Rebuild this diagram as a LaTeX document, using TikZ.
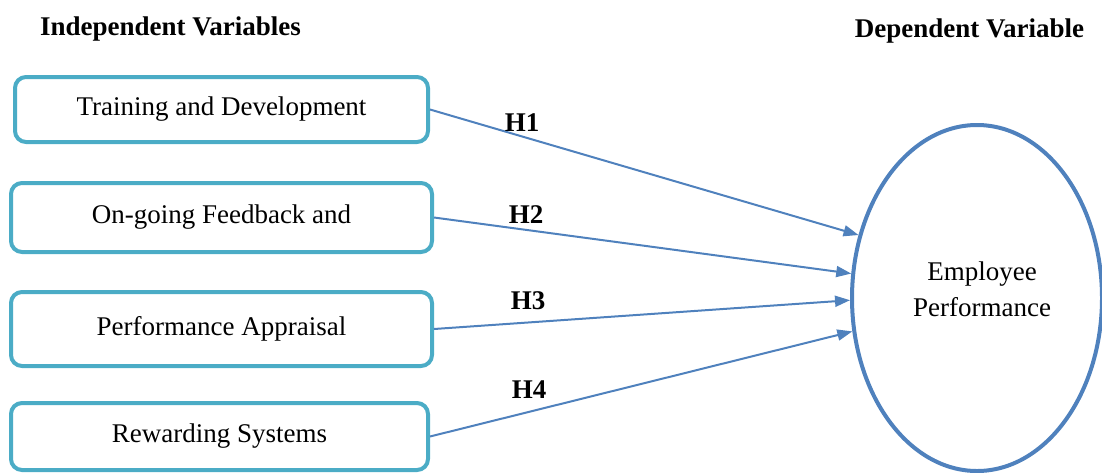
\documentclass[tikz,border=0pt]{standalone}
\usepackage{fontspec}
\setmainfont{Liberation Serif}
\usetikzlibrary{shapes.geometric,arrows.meta}
\definecolor{boxcol}{HTML}{4BACC6}
\definecolor{linecol}{HTML}{4F81BD}
\begin{document}
\begin{tikzpicture}[x=1pt,y=-1pt,
  every node/.style={font=\fontsize{27}{36}\selectfont, text=black},
  ivbox/.style={draw=boxcol, line width=4pt, rounded corners=11pt, fill=white, inner sep=0pt},
  dvell/.style={draw=linecol, ellipse, line width=4pt, inner sep=0pt, minimum width=250pt, minimum height=346pt},
  hyp/.style={draw=linecol, line width=2pt, -{Triangle[length=15pt,width=11pt]}},
  hlab/.style={font=\fontsize{27}{36}\selectfont\bfseries, anchor=base},
  head/.style={font=\fontsize{27}{36}\selectfont\bfseries, anchor=base}
]
\useasboundingbox (0,0) rectangle (1102,472);

\node[head] (hind) at (170.5,35) {Independent Variables};
\node[head] (hdep) at (969.5,37) {Dependent Variable};

\node[ivbox, minimum width=413pt, minimum height=65pt] (b1) at (221.5,109.5) {Training and Development};
\node[ivbox, minimum width=421pt, minimum height=69pt] (b2) at (221.5,217.5) {On-going Feedback and};
\node[ivbox, minimum width=421pt, minimum height=74pt] (b3) at (221.5,329) {Performance Appraisal};
\node[ivbox, minimum width=417pt, minimum height=67pt] (b4) at (219.5,436.5) {Rewarding Systems};

\node[dvell] (dv) at (977,298) {};
\node[align=center, inner sep=0pt] (dvtext) at (982,289) {Employee\\Performance};

\draw[hyp] (b1.east) -- (dv.152);
\draw[hyp] (b2.east) -- (dv.169.6);
\draw[hyp] (b3.east) -- (dv.181.4);
\draw[hyp] (b4.east) -- (dv.195);

\node[hlab] (h1) at (522,131) {H1};
\node[hlab] (h2) at (526,223) {H2};
\node[hlab] (h3) at (528,309) {H3};
\node[hlab] (h4) at (529,398) {H4};
\end{tikzpicture}
\end{document}
